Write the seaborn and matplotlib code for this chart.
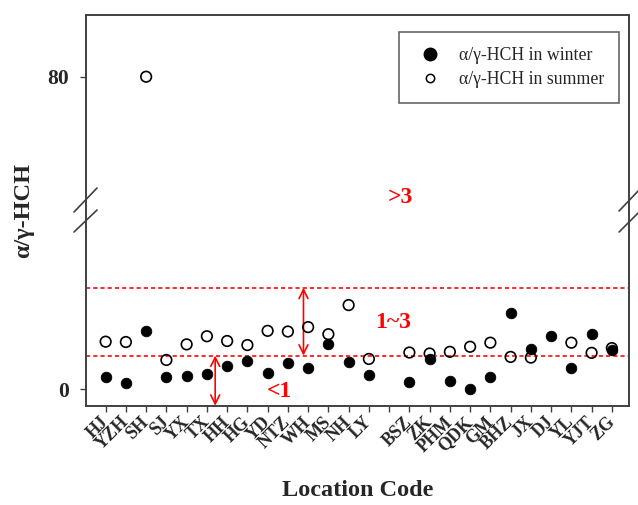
import numpy as np
import pandas as pd
import seaborn as sns
from matplotlib import pyplot as plt
from matplotlib.lines import Line2D

# location codes (blank slot between the two groups)
codes = ["HJ", "YZH", "SH", "SJ", "YX", "TX", "HH", "HG", "YD", "NTZ", "WH", "MS", "NH", "LY", "",
         "BSZ", "ZK", "PHM", "QDK", "GM", "BHZ", "JX", "DJ", "YL", "YJT", "ZG"]

winter = [0.37, 0.20, 1.73, 0.37, 0.39, 0.47, 0.68, 0.83, 0.50, 0.79, 0.62, 1.33, 0.80, 0.42, np.nan,
          0.22, 0.89, 0.24, 0.01, 0.37, 2.27, 1.18, 1.59, 0.64, 1.65, 1.17]
summer = [1.41, 1.40, 80.0, 0.87, 1.33, 1.57, 1.43, 1.31, 1.73, 1.71, 1.84, 1.63, 2.49, 0.90, np.nan,
          1.09, 1.06, 1.11, 1.26, 1.38, 0.96, 0.94, np.nan, 1.38, 1.08, 1.22]

df = pd.DataFrame({"pos": np.arange(len(codes)), "code": codes,
                   "winter": winter, "summer": summer})

# broken y axis: linear up to the break, compressed above it
BRK = 5.26
K = 0.0531


def fwd(y):
    y = np.asarray(y, dtype=float)
    return np.where(y <= BRK, y, BRK + (y - BRK) * K)


def inv(u):
    u = np.asarray(u, dtype=float)
    return np.where(u <= BRK, u, BRK + (u - BRK) / K)


sns.set_style("white")
plt.rcParams["font.family"] = ["Liberation Serif", "DejaVu Serif"]

fig = plt.figure(figsize=(6.38, 5.05), dpi=100)
ax = fig.add_axes([0.1348, 0.1966, 0.8512, 0.7737])
ax.set_yscale("function", functions=(fwd, inv))

sns.scatterplot(data=df, x="pos", y="winter", ax=ax, color="black", s=58,
                edgecolor="black", linewidth=0.6, zorder=3)
sns.scatterplot(data=df, x="pos", y="summer", ax=ax, color="black", s=58,
                facecolor="none", edgecolor="black", linewidth=1.2, zorder=4)
ax.collections[-1].set_facecolor("none")

# threshold lines
for v in [1, 3]:
    ax.axhline(v, color="#ff1a1a", ls=(0, (2.3, 1.7)), lw=1.3, zorder=2)

ax.set_xlim(-0.97, 25.85)
ax.set_ylim(-0.48, float(inv(11.05)))

ax.annotate("", xy=(9.77, 3), xytext=(9.77, 1),
            arrowprops=dict(arrowstyle="<->", color="red", lw=1.2,
                            shrinkA=0, shrinkB=0, mutation_scale=16))
ax.annotate("", xy=(5.41, 1), xytext=(5.41, -0.48),
            arrowprops=dict(arrowstyle="<->", color="red", lw=1.2,
                            shrinkA=0, shrinkB=0, mutation_scale=16))

tkw = dict(color="red", fontsize=17, fontweight="bold", ha="center", va="center",
           transform=ax.transAxes)
ax.text(0.578, 0.532, ">3", **tkw)
ax.text(0.565, 0.212, "1~3", **tkw)
ax.text(0.357, 0.036, "<1", **tkw)

ax.set_yticks([0, 80])
ax.set_yticklabels(["0", "80"], fontsize=15.5, fontweight="bold")
ax.set_xticks(df["pos"])
ax.set_xticklabels(codes, rotation=45, ha="right", va="center",
                   rotation_mode="anchor", fontsize=13, fontweight="bold")
ax.tick_params(axis="y", length=4.5, width=1, color="#404040", pad=8, left=True)
ax.tick_params(axis="x", length=4, width=1, color="#404040", pad=6, bottom=True)

ax.set_xlabel("Location Code", fontsize=17.5, fontweight="bold", labelpad=18)
ax.set_ylabel("α/γ-HCH", fontsize=17.5, fontweight="bold", labelpad=9)

for sp in ax.spines.values():
    sp.set_color("#404040")
    sp.set_linewidth(1.4)

# break marks on both spines
for xs, ys in [((-0.0221, 0.0203), (0.4958, 0.5572)), ((-0.0221, 0.0203), (0.4446, 0.5009)),
               ((0.9816, 1.0166), (0.4983, 0.5495)), ((0.9816, 1.0166), (0.4446, 0.4932))]:
    ax.plot(xs, ys, transform=ax.transAxes, color="#404040", lw=1.2, clip_on=False)

handles = [Line2D([], [], ls="none", marker="o", color="black", markersize=9),
           Line2D([], [], ls="none", marker="o", markerfacecolor="none",
                  markeredgecolor="black", markersize=6, markeredgewidth=1.1)]
leg = ax.legend(handles, ["α/γ-HCH in winter", "α/γ-HCH in summer"],
                loc="upper right", bbox_to_anchor=(0.9816, 0.957), borderaxespad=0,
                fontsize=12.8, frameon=True, fancybox=False, edgecolor="#404040",
                borderpad=0.85, labelspacing=0.4, handletextpad=0.73, handlelength=1.8)
leg.get_frame().set_linewidth(1.2)

fig.savefig("out.png", dpi=100)
